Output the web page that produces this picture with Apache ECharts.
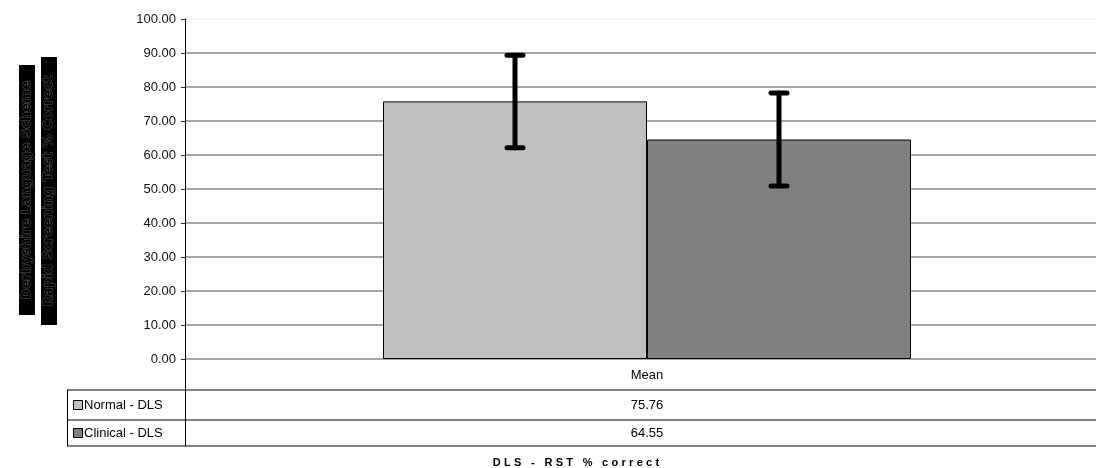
<!DOCTYPE html>
<html><head><meta charset="utf-8">
<script src="https://cdn.jsdelivr.net/npm/echarts@6/dist/echarts.min.js"></script>
<style>html,body{margin:0;padding:0;background:#fff;overflow:hidden;width:1096px;height:468px}#c{width:1109px;height:468px}</style>
</head><body><div id="c"></div>
<script>
const categories = ['Mean'];
const seriesNames = ['Normal - DLS', 'Clinical - DLS'];
const normalValues = [75.76];
const clinicalValues = [64.55];
const normalErr = [13.6];
const clinicalErr = [13.7];
const yTitleLines = ['Derbyshire Language Scheme', 'Rapid Screening Test % Correct'];
const xTitle = 'DLS - RST % correct';
const colors = ['#c0c0c0', '#808080'];

const chart = echarts.init(document.getElementById('c'), null, {renderer: 'canvas'});
const font = 'Liberation Sans, Arial, sans-serif';

function errSeries(values, errs, idx) {
  return {
    type: 'custom',
    z: 10,
    renderItem: function (params, api) {
      const cat = api.value(0);
      const lo = api.coord([cat, api.value(1) - api.value(2)]);
      const hi = api.coord([cat, api.value(1) + api.value(2)]);
      const size = api.size([1, 0]);
      const bw = size[0] * 528 / 924 / 2;
      const x = lo[0] + (idx === 0 ? -bw / 2 : bw / 2);
      const st = {stroke: '#000', lineWidth: 5, lineCap: 'round'};
      return {type: 'group', children: [
        {type: 'line', shape: {x1: x, y1: lo[1], x2: x, y2: hi[1]}, style: st},
        {type: 'line', shape: {x1: x - 8, y1: lo[1], x2: x + 8, y2: lo[1]}, style: st},
        {type: 'line', shape: {x1: x - 8, y1: hi[1], x2: x + 8, y2: hi[1]}, style: st}
      ]};
    },
    data: values.map((v, i) => [i, v, errs[i]])
  };
}

chart.setOption({
  animation: false,
  grid: {left: 185, top: 19, bottom: 109, right: 0, containLabel: false},
  xAxis: {
    type: 'category', data: categories,
    axisLine: {show: false}, axisTick: {show: false},
    axisLabel: {color: '#000', fontFamily: font, fontSize: 13, margin: 10}
  },
  yAxis: {
    type: 'value', min: 0, max: 100, interval: 10,
    axisLine: {show: true, lineStyle: {color: '#000', width: 1}},
    axisTick: {show: true, length: 4, lineStyle: {color: '#333'}},
    axisLabel: {color: '#111', fontFamily: font, fontSize: 13, margin: 9,
      formatter: v => v.toFixed(2)},
    splitLine: {show: true, lineStyle: {color: '#8a8a8a', width: 1.5}}
  },
  series: [
    {name: seriesNames[0], type: 'bar', data: normalValues, barWidth: 264, barGap: '0%',
      itemStyle: {color: colors[0], borderColor: '#000', borderWidth: 1}},
    {name: seriesNames[1], type: 'bar', data: clinicalValues, barWidth: 264, barGap: '0%',
      itemStyle: {color: colors[1], borderColor: '#000', borderWidth: 1}},
    errSeries(normalValues, normalErr, 0),
    errSeries(clinicalValues, clinicalErr, 1)
  ]
});

const zeroY = chart.convertToPixel({yAxisIndex: 0}, 0);
const topY = chart.convertToPixel({yAxisIndex: 0}, 100);
const catX = chart.convertToPixel({xAxisIndex: 0}, 0);
const tableLeft = 67;
const rightEdge = 1109;
const lineStyle = {stroke: '#808080', lineWidth: 2};
const yAxisPx = 185.5;
const g = [];
g.push({type: 'line', z: 5, shape: {x1: yAxisPx + 1, y1: topY, x2: rightEdge, y2: topY}, style: {stroke: '#fff', lineWidth: 3}});
g.push({type: 'line', z: 6, shape: {x1: yAxisPx + 1, y1: topY, x2: rightEdge, y2: topY}, style: {stroke: '#ececec', lineWidth: 1}});
const rowVals = [normalValues, clinicalValues];
const rowBottoms = [zeroY + 31, zeroY + 61, zeroY + 87];
for (let r = 0; r < 3; r++) {
  g.push({type: 'line', shape: {x1: tableLeft, y1: rowBottoms[r], x2: rightEdge, y2: rowBottoms[r]}, style: lineStyle});
}
g.push({type: 'line', shape: {x1: tableLeft + 0.5, y1: rowBottoms[0], x2: tableLeft + 0.5, y2: rowBottoms[2]}, style: {stroke: '#000', lineWidth: 1}});
g.push({type: 'line', shape: {x1: yAxisPx, y1: zeroY, x2: yAxisPx, y2: rowBottoms[2]}, style: {stroke: '#000', lineWidth: 1}});
for (let r = 0; r < 2; r++) {
  const cy = (rowBottoms[r] + rowBottoms[r + 1]) / 2;
  g.push({type: 'rect', shape: {x: 73.5, y: cy - 4.5, width: 9, height: 9}, style: {fill: colors[r], stroke: '#000', lineWidth: 1}});
  g.push({type: 'text', x: 84, y: cy, style: {text: seriesNames[r], fill: '#000', font: '13px ' + font, textVerticalAlign: 'middle'}});
  g.push({type: 'text', x: catX, y: cy, style: {text: rowVals[r][0].toFixed(2), fill: '#000', font: '13px ' + font, textAlign: 'center', textVerticalAlign: 'middle'}});
}
(function () {
  const f = 'bold 11px ' + font;
  const ctx = document.createElement('canvas').getContext('2d');
  ctx.font = f;
  const sp = 3.3;
  const chars = xTitle.split('');
  const widths = chars.map(c => ctx.measureText(c).width + sp);
  const total = widths.reduce((a, b) => a + b, 0) - sp;
  let x = 576 - total / 2;
  const kids = [];
  chars.forEach((c, i) => {
    kids.push({type: 'text', x: x, y: 463, style: {text: c, fill: '#000', font: f, textVerticalAlign: 'middle'}});
    x += widths[i];
  });
  g.push({type: 'group', children: kids});
})();
const boxes = [{cx: 27, h: 250, cy: 190}, {cx: 49, h: 268, cy: 191}];
for (let i = 0; i < 2; i++) {
  const b = boxes[i];
  g.push({type: 'rect', shape: {x: b.cx - 8, y: b.cy - b.h / 2, width: 16, height: b.h}, style: {fill: '#000'}});
  g.push({type: 'text', x: b.cx, y: b.cy, rotation: Math.PI / 2,
    style: {text: yTitleLines[i], fill: '#000', stroke: '#5a5a5a', lineWidth: 1,
      font: 'bold 13px DejaVu Sans, sans-serif', textAlign: 'center', textVerticalAlign: 'middle'}});
}
chart.setOption({graphic: g});
</script></body></html>
